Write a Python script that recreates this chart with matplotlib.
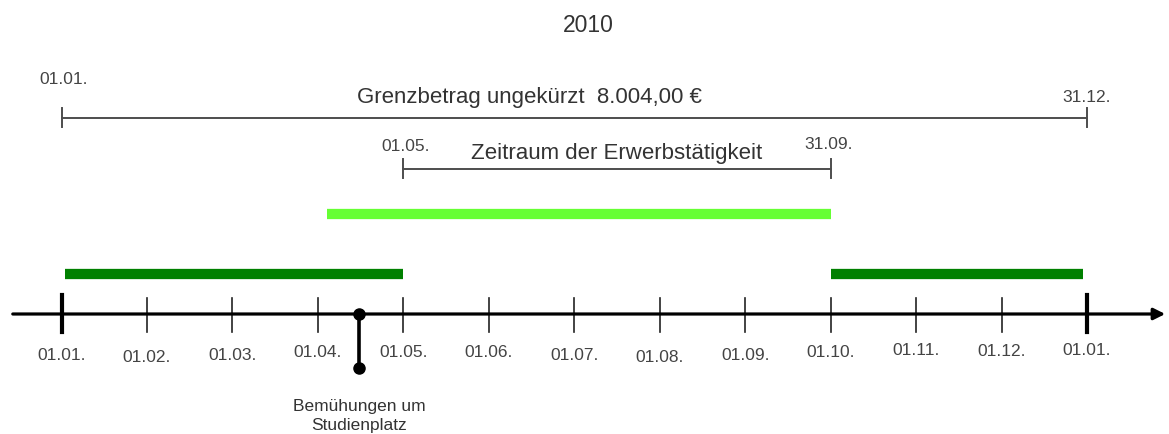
import numpy as np
import matplotlib.pyplot as plt

plt.rcParams['font.family'] = ['Liberation Sans', 'DejaVu Sans']

# data (positions in months from 01.01.2010)
year = '2010'
month_pos = np.arange(13)
month_labels = ['01.01.', '01.02.', '01.03.', '01.04.', '01.05.', '01.06.', '01.07.',
                '01.08.', '01.09.', '01.10.', '01.11.', '01.12.', '01.01.']
full_span = [0, 12]
full_span_labels = ['01.01.', '31.12.']
full_span_text = 'Grenzbetrag ungekürzt  8.004,00 €'
work_span = [4, 9]
work_span_labels = ['01.05.', '31.09.']
work_span_text = 'Zeitraum der Erwerbstätigkeit'
light_bar = [3.11, 9]
dark_bars = [(0.04, 4), (9, 11.95)]
event_pos = 3.48
event_text = 'Bemühungen um\nStudienplatz'

# pixel mapping of months
x0, dx = 61.5, 85.46
W, H = 1169, 435

fig = plt.figure(figsize=(W / 100, H / 100), dpi=100)
ax = fig.add_axes([0, 0, 1, 1])
ax.set_xlim(-x0 / dx, (W - x0) / dx)
ax.set_ylim(H, 0)
ax.axis('off')

txt = '#333333'
lbl = '#444444'
grey = '#4d4d4d'

def px(x):
    # pixel column -> month position
    return (x - x0) / dx

ax.text(px(588), 25, year, ha='center', va='center', fontsize=16.5, color=txt)

# top bracket: full year
yb1 = 119
ax.plot(full_span, [yb1, yb1], color=grey, lw=1.4)
for p in full_span:
    ax.plot([p, p], [yb1 - 10, yb1 + 9], color=grey, lw=1.4)
ax.text(full_span[0] + 0.03, 80, full_span_labels[0], ha='center', va='center', fontsize=12.5, color=lbl)
ax.text(full_span[1], 97, full_span_labels[1], ha='center', va='center', fontsize=12.5, color=lbl)
ax.text(px(529), 97, full_span_text, ha='center', va='center', fontsize=16, color=txt)

# second bracket: working period
yb2 = 170
ax.plot(work_span, [yb2, yb2], color=grey, lw=1.4)
for p in work_span:
    ax.plot([p, p], [yb2 - 10, yb2 + 9], color=grey, lw=1.4)
ax.text(work_span[0] + 0.03, 147, work_span_labels[0], ha='center', va='center', fontsize=12.5, color=lbl)
ax.text(work_span[1] - 0.02, 145, work_span_labels[1], ha='center', va='center', fontsize=12.5, color=lbl)
ax.text(px(617), 154, work_span_text, ha='center', va='center', fontsize=16, color=txt)

# bars
ax.plot(light_bar, [215, 215], color='#66ff33', lw=7.4, solid_capstyle='butt')
for a, b in dark_bars:
    ax.plot([a, b], [275, 275], color='#008000', lw=7.4, solid_capstyle='butt')

# time axis
ya = 315
label_dy = [3, 5, 3, 0, 0, 0, 3, 5, 3, 0, -2, -1, -2]
ax.annotate('', xy=(px(1168), ya), xytext=(px(10), ya),
            arrowprops=dict(arrowstyle='-|>', color='black', lw=2.3, mutation_scale=17))
for i, (p, lab) in enumerate(zip(month_pos, month_labels)):
    edge = i == 0 or i == len(month_pos) - 1
    ax.plot([p, p], [ya - 19 if edge else ya - 16, ya + 18],
            color='black' if edge else '#222222', lw=3 if edge else 1.2)
    ax.text(p, 353 + label_dy[i], lab, ha='center', va='center', fontsize=12.5, color=lbl)

# event marker
ax.plot([event_pos, event_pos], [ya, 369], color='black', lw=2.6)
ax.plot([event_pos, event_pos], [ya, 369], 'o', color='black', ms=8)
ax.text(event_pos, 416, event_text, ha='center', va='center', fontsize=12.5, color=txt,
        linespacing=1.3)

fig.savefig('out.png', dpi=100)
